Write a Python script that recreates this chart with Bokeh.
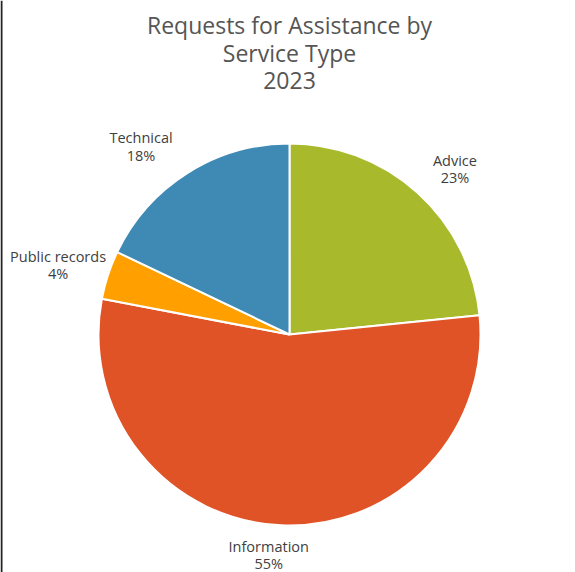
import numpy as np
from bokeh.plotting import figure
from bokeh.models import Range1d, Span
from bokeh.core.properties import value
from bokeh.embed import file_html
from bokeh.resources import INLINE

# ---- data ----
categories = ["Advice", "Information", "Public records", "Technical"]
shares = [23.4, 54.6, 4.1, 17.9]          # percent
pct_labels = ["23%", "55%", "4%", "18%"]
colors = ["#A8B92B", "#E05327", "#FFA000", "#3F8AB4"]
title_lines = ["Requests for Assistance by", "Service Type", "2023"]

W, H = 575, 572
p = figure(width=W, height=H, output_backend="svg", toolbar_location=None,
           x_range=Range1d(0, W), y_range=Range1d(0, H), min_border=0)
p.axis.visible = False
p.grid.visible = False
p.outline_line_color = None
p.background_fill_color = "white"
p.border_fill_color = "white"

cx, cy, R = 289, H - 334, 191
vals = np.array(shares, dtype=float)
frac = vals / vals.sum()
cum = np.concatenate([[0], np.cumsum(frac)])
start = np.pi / 2 - cum[:-1] * 2 * np.pi
end = np.pi / 2 - cum[1:] * 2 * np.pi

p.wedge(x=cx, y=cy, radius=R, start_angle=start, end_angle=end, direction="clock",
        fill_color=colors, line_color="white", line_width=2)

# labels outside the pie (two lines each)
mid = (cum[:-1] + cum[1:]) / 2 * 2 * np.pi  # clockwise from top
nudge = {"Advice": (14, 1), "Information": (-10, 1.5), "Public records": (12, 0), "Technical": (-22, 0)}
gap = 8.75
for i, c in enumerate(categories):
    hw = 0.5 * len(c) * 7.6
    hh = 19
    pad = 12
    dx = (R + pad + hw) * np.sin(mid[i])
    dy = (R + pad + hh) * np.cos(mid[i])
    nx, ny = nudge[c]
    x0 = cx + dx + nx
    y0 = cy + dy + ny
    p.text(x=[x0, x0], y=[y0 + gap, y0 - gap], text=[c, pct_labels[i]],
           text_align="center", text_baseline="middle",
           text_font=value("Open Sans"), text_font_size="14.5px", text_color="#404040")

# title
for k, t in enumerate(title_lines):
    p.text(x=[289], y=[H - 24 - 28 * k], text=[t], text_align="center", text_baseline="middle",
           text_font=value("Open Sans"), text_font_size="23px", text_color="#555555",
           text_font_style="normal")

p.add_layout(Span(location=1, dimension="height", line_color="#222222", line_width=2))

open("out.html", "w").write(file_html(p, INLINE))
